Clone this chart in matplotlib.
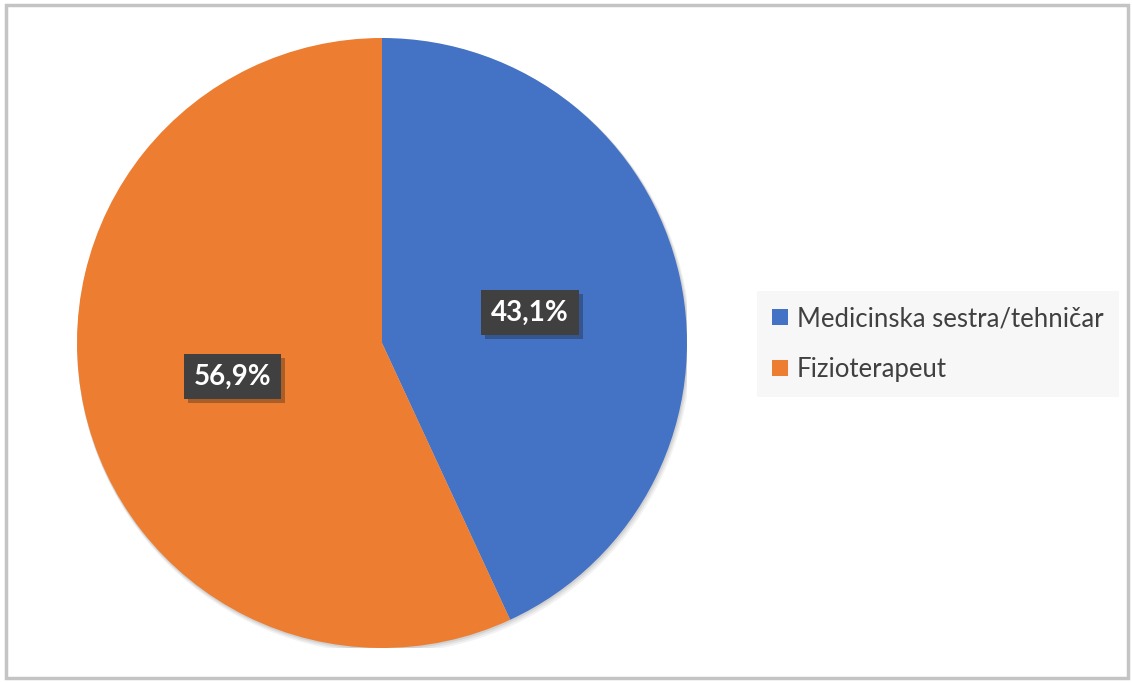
import matplotlib.pyplot as plt
import matplotlib.patheffects as pe
from matplotlib.patches import Rectangle, Circle

categories = ['Medicinska sestra/tehničar', 'Fizioterapeut']
values = [43.1, 56.9]
labels = ['43,1%', '56,9%']
colors = ['#4472c4', '#ed7d31']

plt.rcParams['font.family'] = ['Lato', 'DejaVu Sans']

W, H = 1132, 682
fig = plt.figure(figsize=(W / 100, H / 100), dpi=100)
fig.patch.set_facecolor('white')

# outer frame
fig.patches.append(Rectangle((5.5 / W, 4.5 / H), (W - 10) / W, (H - 9) / H,
                             transform=fig.transFigure, fill=False,
                             edgecolor='#c4c4c4', linewidth=2.5))

cx, cy, r = 382, 343, 305
ax = fig.add_axes([(cx - r) / W, (H - cy - r) / H, 2 * r / W, 2 * r / H])
# soft shadow under the whole pie
for k, a in [(0.012, 0.05), (0.008, 0.06), (0.004, 0.08)]:
    ax.add_patch(Circle((k * 0.6, -k), 1 + k * 0.5, facecolor='black',
                        edgecolor='none', alpha=a, zorder=0))
wedges, _ = ax.pie(values, colors=colors, startangle=90, counterclock=False,
                   wedgeprops=dict(linewidth=0))
ax.set_xlim(-1, 1)
ax.set_ylim(-1, 1)
ax.set_aspect('equal')

label_pos = [(0.485, 0.10), (-0.49, -0.11)]
for (x, y), t in zip(label_pos, labels):
    ax.text(x, y, t, ha='center', va='center', fontsize=20, fontweight='bold',
            color='white',
            bbox=dict(boxstyle='square,pad=0.35', facecolor='#404040',
                      edgecolor='none',
                      path_effects=[pe.SimplePatchShadow(offset=(3, -3), alpha=0.3),
                                    pe.Normal()]))

handles = [Rectangle((0, 0), 1, 1, facecolor=c, edgecolor='none') for c in colors]
leg = fig.legend(handles, categories, loc='center left',
                 bbox_to_anchor=(757 / W, 1 - 344 / H), fontsize=18.5,
                 frameon=True, fancybox=False, handlelength=0.6,
                 handleheight=0.6, handletextpad=0.35, labelspacing=1.0,
                 borderpad=0.6, borderaxespad=0, labelcolor='#404040')
leg.get_frame().set_facecolor('#f6f6f6')
leg.get_frame().set_edgecolor('none')

fig.savefig('out.png', dpi=100)
